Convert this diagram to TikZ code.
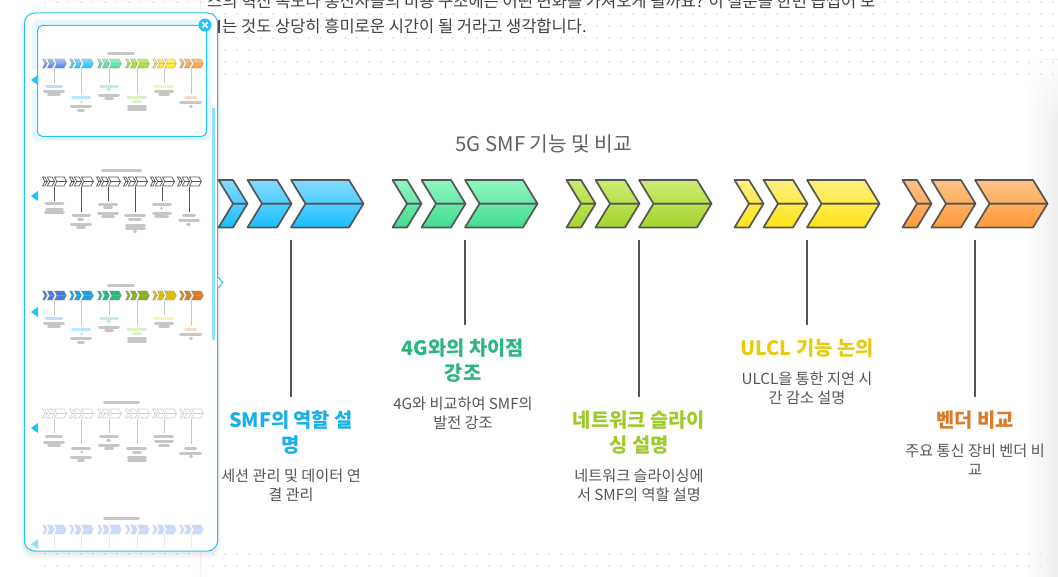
\documentclass[tikz,border=0pt]{standalone}
\usepackage{fontspec}
\setmainfont{Noto Sans CJK KR}
\usetikzlibrary{positioning, fadings}

\definecolor{panelc}{HTML}{22C3F5}
\definecolor{haloc}{HTML}{E8F7FD}
\definecolor{scrollc}{HTML}{8FE0FB}
\definecolor{dotc}{HTML}{EBEBEB}
\definecolor{pinkc}{HTML}{FDEBEB}
\definecolor{edgec}{HTML}{555555}
\definecolor{barc}{HTML}{C6C6C6}
\definecolor{bodyc}{HTML}{555555}

\definecolor{cyantop}{HTML}{84DAFF}\definecolor{cyanmid}{HTML}{4FCEFF}\definecolor{cyanlow}{HTML}{18BFFF}
\definecolor{greentop}{HTML}{90F6C2}\definecolor{greenmid}{HTML}{6AE8AC}\definecolor{greenlow}{HTML}{40DC8F}
\definecolor{limetop}{HTML}{CBEB70}\definecolor{limemid}{HTML}{B9E04F}\definecolor{limelow}{HTML}{A4D52C}
\definecolor{yellowtop}{HTML}{FFF080}\definecolor{yellowmid}{HTML}{FFEA4C}\definecolor{yellowlow}{HTML}{FFE418}
\definecolor{orangetop}{HTML}{FFC284}\definecolor{orangemid}{HTML}{FFAE60}\definecolor{orangelow}{HTML}{FF9A3C}
\definecolor{bluetop}{HTML}{A6C3FB}\definecolor{bluemid}{HTML}{769FF8}\definecolor{bluelow}{HTML}{4E82F5}

\definecolor{dkblue}{HTML}{4A78D8}\definecolor{dkcyan}{HTML}{1FA2D8}\definecolor{dkgreen}{HTML}{2FB57E}
\definecolor{dklime}{HTML}{8CAD2A}\definecolor{dkyellow}{HTML}{DCC00F}\definecolor{dkorange}{HTML}{DA7B2A}

\definecolor{pa}{HTML}{C8DAFB}\definecolor{pb}{HTML}{B7E7FA}\definecolor{pc}{HTML}{BFEFD9}
\definecolor{pd}{HTML}{E0EEC6}\definecolor{pe}{HTML}{F8F1BA}\definecolor{pf}{HTML}{FADBC3}

\newcommand{\chevgroup}[5]{%
  \begin{scope}[#1]
    \foreach \xa/\xb in {0/14.5,29/58.5,72.5/130.5}{
      \path[#2, top color=#3, bottom color=#4] (\xa,-23.75) -- (\xa+14.5,0) -- (\xb+14.5,0) -- (\xb,-23.75) -- cycle;
      \path[#2, top color=#4, bottom color=#5] (\xa,23.75) -- (\xa+14.5,0) -- (\xb+14.5,0) -- (\xb,23.75) -- cycle;
    }
  \end{scope}}

\newcommand{\barsplain}[1]{%
  \begin{scope}[shift={(0,#1)}]
    \foreach \xa/\xb/\yb/\bc in {45/63/23/pa,43/65/28.5/barc,47/61/31.5/barc,
        71/91/34.5/pb,80/83/38.5/pb,70/92/43.5/barc,77/85/47/barc,
        99/119/23/pc,106/111/26.5/pc,98/120/32/barc,104/114/35/barc,
        126/147/34.5/pd,132/142/38.5/pd,127/147/43.5/barc,127/147/46.5/barc,
        153/174/23/pe,154/174/28/barc,158/170/31.5/barc,
        184/197/34.5/pf,179/202/39.5/barc,190/192/43/barc}
      \draw[minibar, draw=\bc] (\xa+1.5,\yb) -- (\xb-1.5,\yb);
  \end{scope}}

\begin{document}
\begin{tikzpicture}[x=1pt, y=-1pt,
    chevmain/.style={draw=edgec, line width=1.7pt, line join=round},
    chevmini/.style={draw=black!40, line width=.3pt},
    link/.style={draw=edgec, line width=1.7pt},
    stem/.style={draw=barc, line width=1pt},
    minibar/.style={line width=3pt, line cap=round},
    headlab/.style={anchor=north, align=center, inner sep=0pt, outer ysep=0pt, minimum height=0pt,
      font=\fontsize{19.8}{25}\selectfont\bfseries},
    desclab/.style={align=center, inner sep=0pt, text=bodyc, font=\fontsize{15.2}{18.8}\selectfont},
    marker/.style={fill=panelc}]
  \useasboundingbox (0,0) rectangle (1058,577);

  \shade[left color=white, right color=black!7] (1026,60) rectangle (1058,577);
  \fill[white, path fading=south] (1026,60) rectangle (1058,120);
  \foreach \yd in {2,14,26,38,50,62,74,554,566}
    \foreach \xd in {45,57,...,1053}
      \fill[dotc] (\xd-.8,\yd-.8) rectangle (\xd+.8,\yd+.8);
  \fill[pinkc] (200.3,0) rectangle (201.3,13);
  \fill[pinkc] (200.3,552) rectangle (201.3,577);

  \node[anchor=base west, inner sep=0pt, text=black!75, font=\fontsize{16.5}{16.5}\selectfont] (line1) at (207,8)
    {스의 혁신 속도나 통신사들의 비용 구조에는 어떤 변화를 가져오게 될까요? 이 질문을 한번 곱씹어 보};
  \node[anchor=base west, inner sep=0pt, text=black!75, font=\fontsize{16.5}{16.5}\selectfont] (line2) at (222,33)
    {는 것도 상당히 흥미로운 시간이 될 거라고 생각합니다.};
  \fill[black!70] (218,20) rectangle (219.6,33);

  \node[text=black!62, inner sep=0pt, font=\fontsize{20.3}{20.3}\selectfont] (maintitle) at (544,144) {5G SMF 기능 및 비교};

  \chevgroup{shift={(218.5,203.7)}}{chevmain}{cyantop}{cyanmid}{cyanlow}
  \chevgroup{shift={(392.5,203.7)}}{chevmain}{greentop}{greenmid}{greenlow}
  \chevgroup{shift={(566.5,203.7)}}{chevmain}{limetop}{limemid}{limelow}
  \chevgroup{shift={(734.5,203.7)}}{chevmain}{yellowtop}{yellowmid}{yellowlow}
  \chevgroup{shift={(902.5,203.7)}}{chevmain}{orangetop}{orangemid}{orangelow}

  \coordinate (a1) at (291,240);
  \coordinate (a2) at (465,240);
  \coordinate (a3) at (639,240);
  \coordinate (a4) at (807,240);
  \coordinate (a5) at (975,240);

  \node[headlab, text=dkcyan!60!cyanlow] (t1) at (291,411) {SMF의 역할 설\\명};
  \node[headlab, text=dkgreen] (t2) at (463,339) {4G와의 차이점\\강조};
  \node[headlab, text=limelow!75!dklime] (t3) at (639,411) {네트워크 슬라이\\싱 설명};
  \node[headlab, text=dkyellow!70!yellowlow] (t4) at (807,339) {ULCL 기능 논의};
  \node[headlab, text=dkorange] (t5) at (975,411) {벤더 비교};

  \node[desclab, below=14.5pt of t1] (d1) {세션 관리 및 데이터 연\\결 관리};
  \node[desclab, below=14.5pt of t2] (d2) {4G와 비교하여 SMF의\\발전 강조};
  \node[desclab, below=14.5pt of t3] (d3) {네트워크 슬라이싱에\\서 SMF의 역할 설명};
  \node[desclab, below=14.5pt of t4] (d4) {ULCL을 통한 지연 시\\간 감소 설명};
  \node[desclab, below=14.5pt of t5] (d5) {주요 통신 장비 벤더 비\\교};

  \coordinate (b1) at (291,397);
  \coordinate (b2) at (465,325);
  \coordinate (b3) at (639,397);
  \coordinate (b4) at (807,325);
  \coordinate (b5) at (975,397);
  \foreach \i in {1,...,5}
    \draw[link] (a\i) -- (b\i);

  \foreach \k in {6,3}
    \fill[black, opacity=.04, rounded corners=10pt] (24.5-\k/2,15) rectangle (217.5+\k/2,551.5+\k);
  \draw[draw=panelc, fill=white, line width=1pt, rounded corners=10pt] (24.5,13) rectangle (217.5,551);
  \draw[draw=panelc, fill=white, line width=1pt, line join=miter] (217.5,276.7) -- (223,282.7) -- (217.5,288.5);

  \fill[haloc, rounded corners=6pt] (32,20) rectangle (211,141);
  \fill[white] (32,70) rectangle (37.5,90);
  \draw[draw=panelc, fill=white, line width=1pt, rounded corners=5pt] (37.5,25.5) rectangle (206.5,136.5);
  \fill[scrollc] (212,108) rectangle (215,340);

  \fill[panelc] (205,25) circle (6.5pt);
  \draw[white, line width=1.6pt] (202.3,22.3) -- (207.7,27.7) (207.7,22.3) -- (202.3,27.7);

  \foreach \ym in {80,196,312,428}
    \fill[marker] (31,\ym) -- (38,\ym-5) -- (38,\ym+5) -- cycle;
  \fill[scrollc] (31,544) -- (38,539) -- (38,549) -- cycle;

  \foreach \xt/\yt/\xu in {107/53.5/135,101/170.5/142,107/285.5/135,103/402.5/140,103/518.5/140}
    \draw[minibar, draw=barc] (\xt+1.5,\yt) -- (\xu-1.5,\yt);

  \foreach \gx/\gc in {42.5/blue,69.5/cyan,97.5/green,125.5/lime,152.5/yellow,179.5/orange}{
    \chevgroup{shift={(\gx,63.5)},xscale=.165,yscale=.19}{chevmini}{\gc top}{\gc mid}{\gc low}
  }
  \foreach \gx/\gc in {42.5/dkblue,69.5/dkcyan,97.5/dkgreen,125.5/dklime,152.5/dkyellow,179.5/dkorange}{
    \chevgroup{shift={(\gx,295.5)},xscale=.165,yscale=.19}{chevmini}{\gc}{\gc}{\gc}
  }
  \foreach \gx in {42.5,69.5,96.5,123.5,150.5,177.5}{
    \chevgroup{shift={(\gx,181.5)},xscale=.165,yscale=.19}{draw=edgec, line width=.7pt}{white}{white}{white}
  }
  \foreach \gx in {42.5,69.5,97.5,125.5,152.5,179.5}{
    \chevgroup{shift={(\gx,413.5)},xscale=.165,yscale=.19}{draw=black!18, line width=.6pt}{white}{white}{white}
    \chevgroup{shift={(\gx,529.5)},xscale=.165,yscale=.19}{draw=black!12, line width=.3pt}{pa}{pa}{pa}
  }

  \foreach \xs/\ye in {54/83,81/94,109/83,137/94,164/83,191/94}{
    \draw[stem] (\xs,69) -- (\xs,\ye);
    \draw[stem] (\xs,301) -- (\xs,\ye+232);
    \draw[stem] (\xs,419) -- (\xs,\ye+350);
    \draw[draw=black!8, line width=1pt] (\xs,535) -- (\xs,548);
  }
  \foreach \xs/\ye in {54/201,81/212,108/201,135/212,162/201,189/212}
    \draw[draw=edgec, line width=1pt] (\xs,187) -- (\xs,\ye);

  \barsplain{63.5}
  \barsplain{295.5}
  \begin{scope}
    \colorlet{pa}{barc}\colorlet{pb}{barc}\colorlet{pc}{barc}
    \colorlet{pd}{barc}\colorlet{pe}{barc}\colorlet{pf}{barc}
    \barsplain{413.5}
  \end{scope}

  \foreach \xa/\xb/\yb in {44.5/64.5/204,45/64/210,44/65/212.5,
      71.5/91/216,77/84/220,70/92/225,76/86/228,
      98/118/204.5,103/113/208,97/119/213.5,101/115/217,
      124/146/216,128/142/220,125/146/225.5,125/146/229,134/136/231.5,
      152/172/204.5,160/163/208.5,152/172/213.5,154/169/216.5,
      182/196/216,178/200/221,186/191/224.5}
    \draw[minibar, draw=barc] (\xa+1.5,\yb) -- (\xb-1.5,\yb);
\end{tikzpicture}
\end{document}
